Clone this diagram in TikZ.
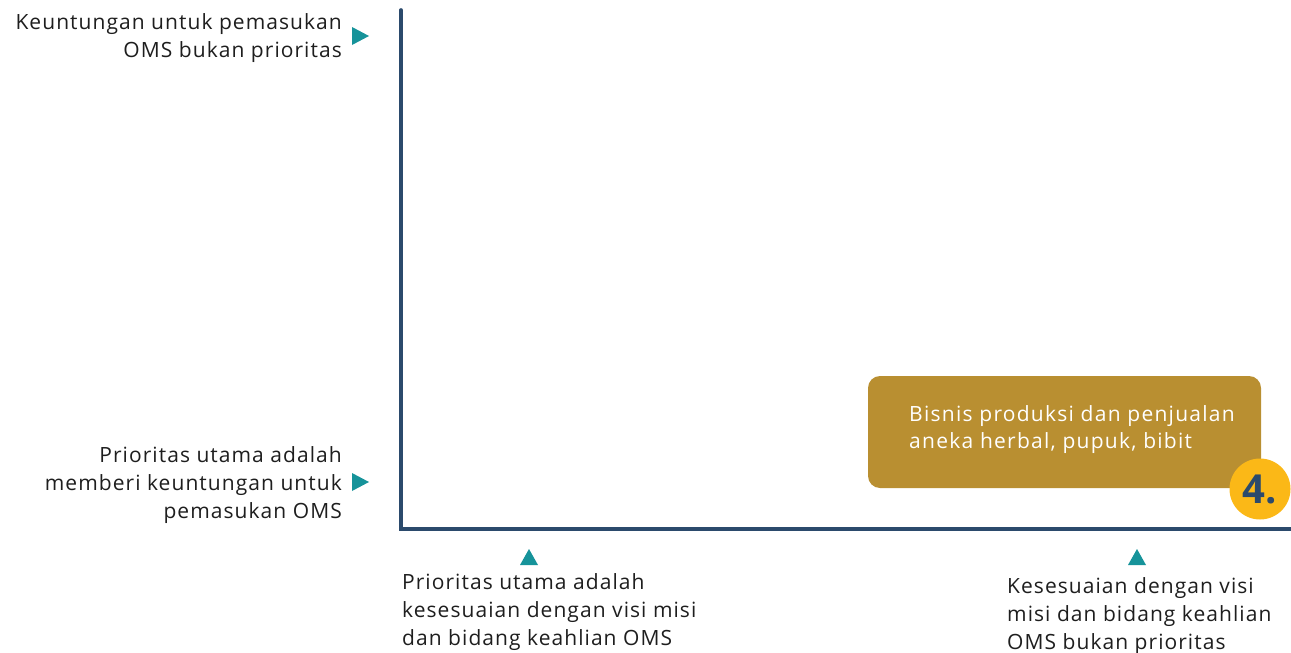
\documentclass[tikz,border=0pt]{standalone}
\usepackage{fontspec}
\setmainfont{Open Sans}
\usetikzlibrary{shapes.geometric}
\definecolor{axisnavy}{HTML}{2B4A6C}
\definecolor{markteal}{HTML}{16939A}
\definecolor{boxgold}{HTML}{B98F31}
\definecolor{badgeyellow}{HTML}{FBB817}
\definecolor{textdark}{HTML}{1E1E1E}
\begin{document}
\begin{tikzpicture}[x=1pt,y=-1pt,
  lbl/.style={font=\fontsize{21}{28}\selectfont\addfontfeatures{LetterSpace=5}, text=textdark, inner sep=0pt},
  rtri/.style={fill=markteal, draw=none},
]
\useasboundingbox (0,0) rectangle (1291,653);
% axes
\coordinate (top) at (401,10);
\coordinate (origin) at (401,529);
\coordinate (right) at (1291,529);
\draw[axisnavy, line width=3.6pt, line cap=round, line join=miter] (top) -- (origin) -- (right);

% markers
\fill[rtri] (352,27) -- (369,36) -- (352,45) -- cycle;
\fill[rtri] (352,473) -- (369,482) -- (352,491) -- cycle;
\fill[rtri] (520,565) -- (529,549) -- (538,565) -- cycle;
\fill[rtri] (1128,565) -- (1137,549) -- (1146,565) -- cycle;

% vertical axis labels
\node[lbl, anchor=north east, align=right] (ytop) at (342,13)
  {Keuntungan untuk pemasukan\\OMS bukan prioritas};
\node[lbl, anchor=north east, align=right] (ybot) at (342,446)
  {Prioritas utama adalah\\memberi keuntungan untuk\\pemasukan OMS};

% horizontal axis labels
\node[lbl, anchor=north west, align=left] (xleft) at (402,573)
  {Prioritas utama adalah\\kesesuaian dengan visi misi\\dan bidang keahlian OMS};
\node[lbl, anchor=north west, align=left] (xright) at (1007,577)
  {Kesesuaian dengan visi\\misi dan bidang keahlian\\OMS bukan prioritas};

% item box
\fill[boxgold, rounded corners=12pt] (868,376) rectangle (1261,488);
\node[lbl, text=white, anchor=north west, align=left, font=\fontsize{21}{27}\selectfont\addfontfeatures{LetterSpace=6}] (item) at (909,405)
  {Bisnis produksi dan penjualan\\aneka herbal, pupuk, bibit};

% number badge
\node[circle, fill=badgeyellow, minimum size=61pt, inner sep=0pt,
  font=\fontsize{40}{40}\selectfont\bfseries, text=axisnavy] (badge) at (1260,489) {4.};
\end{tikzpicture}
\end{document}
